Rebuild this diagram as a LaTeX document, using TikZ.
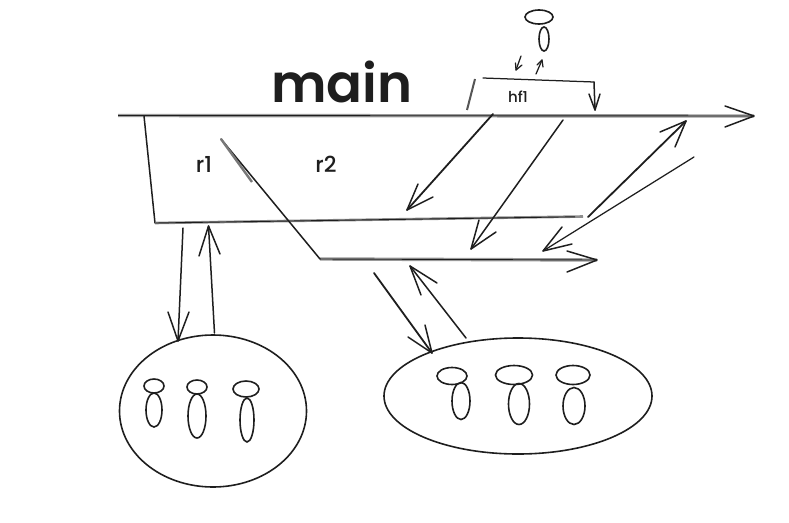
\documentclass[tikz,border=0pt]{standalone}
\usepackage{fontspec}
\setmainfont{Poppins}
\usetikzlibrary{shapes.geometric}
\definecolor{ink}{HTML}{1E1E1E}
\tikzset{
  ink/.style={draw=ink,line width=1.5pt,line cap=round,line join=round},
  thin ink/.style={draw=ink,line width=1.25pt,line cap=round,line join=round},
  heavy under/.style={draw=ink!45,line width=3.4pt},
  heavy over/.style={draw=ink,line width=0.9pt},
  blob/.style={ellipse,draw=ink,line width=1.6pt,inner sep=0pt,minimum width=#1},
  label/.style={inner sep=0pt,text=ink}
}
\newcommand{\barbs}[3]{\draw[ink] (#1) -- (#2) -- (#3);}
\begin{document}
\begin{tikzpicture}[x=1pt,y=-1pt]
\useasboundingbox (0,0) rectangle (789,522);
% free ends
\coordinate (mainL) at (118,115.5); \coordinate (mainR) at (754,116);
\coordinate (midL) at (155,223); \coordinate (midR) at (583,216.5);
\coordinate (subL) at (320,259); \coordinate (subR) at (597,260);
\coordinate (leftTop) at (144,116);
\coordinate (diagA) at (221,139);
\coordinate (brA) at (483,78); \coordinate (brB) at (594,82); \coordinate (brC) at (595,110);
\coordinate (tickA) at (475,79); \coordinate (tickB) at (467,110);
% text
\node[label,font=\fontspec{Poppins SemiBold}\fontsize{53}{53}\selectfont] (main) at (342,82) {main};
\node[label,font=\fontspec{Poppins Medium}\fontsize{22}{22}\selectfont] (r1) at (204,164) {r1};
\node[label,font=\fontspec{Poppins Medium}\fontsize{22}{22}\selectfont] (r2) at (326,164) {r2};
\node[label,font=\fontspec{Poppins Medium}\fontsize{15}{15}\selectfont] (hf1) at (518,97) {hf1};
% long lines
\draw[heavy under] (mainL) -- (mainR);
\draw[heavy over] (mainL) -- (mainR);
\barbs{725,106}{mainR}{725,127}
\draw[ink] (leftTop) -- (midL);
\draw[draw=ink!50,line width=2.6pt] (midL) -- (midR);
\draw[heavy over] (midL) -- (575,216.8);
\draw[heavy under] (subL) -- (subR);
\draw[heavy over] (subL) -- (subR);
\barbs{567,251}{subR}{567,272}
\draw[ink] (diagA) -- (subL);
\draw[draw=ink!60,line width=2.4pt] (diagA) -- (252,182);
% hf1 bracket
\draw[thin ink] (brA) -- (brB);
\draw[ink] (brB) -- (brC);
\barbs{589,94}{brC}{600,94}
\draw[draw=ink!75,line width=2pt] (tickA) -- (tickB);
% slanted arrows
\coordinate (a1s) at (493,114); \coordinate (a1t) at (407,210);
\draw[ink,line width=1.8pt] (a1s) -- (a1t);
\barbs{418,184}{a1t}{433,197}
\coordinate (a2s) at (563,120); \coordinate (a2t) at (471,249);
\draw[ink] (a2s) -- (a2t);
\barbs{479,220}{a2t}{496,232}
\coordinate (a3s) at (588,217); \coordinate (a3t) at (686,121);
\draw[ink,line width=1.8pt] (a3s) -- (a3t);
\barbs{660,132}{a3t}{675,147}
\coordinate (a4s) at (694,157); \coordinate (a4t) at (543,251);
\draw[thin ink] (a4s) -- (a4t);
\barbs{562,227}{a4t}{572,244}
% top figure
\node[blob=28pt,minimum height=14pt] (topHead) at (539,17) {};
\node[blob=10pt,minimum height=24pt] (topBody) at (544,39) {};
\coordinate (t1s) at (521,56); \coordinate (t1t) at (516,70);
\draw[thin ink] (t1s) -- (t1t);
\draw[thin ink] (515.5,63) -- (t1t) -- (522,65);
\coordinate (t2s) at (536,74); \coordinate (t2t) at (542,60);
\draw[thin ink] (t2s) -- (t2t);
\draw[thin ink] (537,65) -- (t2t) -- (543,67);
% left group
\node[blob=187pt,minimum height=152pt] (groupA) at (213,411) {};
\node[blob=20pt,minimum height=14pt] (a1h) at (154,386) {};
\node[blob=16pt,minimum height=34pt] (a1b) at (154,410) {};
\node[blob=20pt,minimum height=14pt] (a2h) at (197,387) {};
\node[blob=18pt,minimum height=44pt] (a2b) at (197,416) {};
\node[blob=26pt,minimum height=16pt] (a3h) at (246,389) {};
\node[blob=14pt,minimum height=44pt] (a3b) at (247,420) {};
\coordinate (l1s) at (183,228); \coordinate (l1t) at (178,341);
\draw[ink] (l1s) -- (l1t);
\barbs{168,312}{l1t}{189,312}
\coordinate (l2s) at (214.5,333); \coordinate (l2t) at (208.5,226);
\draw[ink] (l2s) -- (l2t);
\barbs{199,256}{l2t}{220,254}
% right group
\node[blob=268pt,minimum height=116pt] (groupB) at (518,396) {};
\node[blob=30pt,minimum height=17pt] (b1h) at (452,376) {};
\node[blob=18pt,minimum height=37pt] (b1b) at (461,401) {};
\node[blob=37pt,minimum height=19pt] (b2h) at (514,375) {};
\node[blob=21pt,minimum height=41pt] (b2b) at (519,404) {};
\node[blob=34pt,minimum height=19pt] (b3h) at (573,375) {};
\node[blob=22pt,minimum height=37pt] (b3b) at (574,406) {};
\coordinate (r1s) at (374,273); \coordinate (r1t) at (432,353);
\draw[draw=ink,line width=1.8pt,line cap=round] (r1s) -- (r1t);
\barbs{425,325}{r1t}{408,337}
\coordinate (r2s) at (466,338); \coordinate (r2t) at (410,266);
\draw[ink] (r2s) -- (r2t);
\barbs{421,295}{r2t}{437,283}
\end{tikzpicture}
\end{document}
